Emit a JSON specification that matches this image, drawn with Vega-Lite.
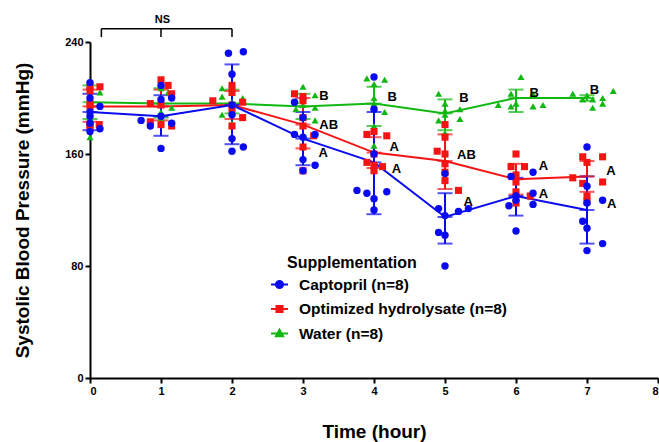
{
  "$schema": "https://vega.github.io/schema/vega-lite/v6.json",
  "width": 568,
  "height": 336,
  "autosize": "none",
  "padding": {"left": 90, "top": 42, "right": 1, "bottom": 64},
  "background": "white",
  "config": {
    "font": "Liberation Sans",
    "view": {"stroke": null},
    "axis": {
      "grid": false,
      "domainColor": "black",
      "domainWidth": 2,
      "tickColor": "black",
      "tickWidth": 2,
      "tickSize": 5,
      "labelFont": "Liberation Sans",
      "labelFontWeight": "bold",
      "labelFontSize": 11,
      "labelColor": "black",
      "titleFont": "Liberation Sans",
      "titleFontWeight": "bold",
      "titleFontSize": 19,
      "titleColor": "black"
    }
  },
  "datasets": {
    "points": [
      {"g": "Water (n=8)", "t": 0, "v": 210}, {"g": "Water (n=8)", "t": 0.14, "v": 204}, {"g": "Water (n=8)", "t": 0, "v": 199}, {"g": "Water (n=8)", "t": 0, "v": 196}, {"g": "Water (n=8)", "t": 0, "v": 193}, {"g": "Water (n=8)", "t": 0, "v": 186}, {"g": "Water (n=8)", "t": 0, "v": 180}, {"g": "Water (n=8)", "t": 0, "v": 172},
      {"g": "Water (n=8)", "t": 1, "v": 207}, {"g": "Water (n=8)", "t": 1.1, "v": 204}, {"g": "Water (n=8)", "t": 1, "v": 200}, {"g": "Water (n=8)", "t": 1, "v": 197}, {"g": "Water (n=8)", "t": 1, "v": 195}, {"g": "Water (n=8)", "t": 1.15, "v": 193}, {"g": "Water (n=8)", "t": 1, "v": 190}, {"g": "Water (n=8)", "t": 1, "v": 186},
      {"g": "Water (n=8)", "t": 1.86, "v": 207}, {"g": "Water (n=8)", "t": 2, "v": 204}, {"g": "Water (n=8)", "t": 1.86, "v": 201}, {"g": "Water (n=8)", "t": 2.15, "v": 200}, {"g": "Water (n=8)", "t": 2, "v": 197}, {"g": "Water (n=8)", "t": 2, "v": 193}, {"g": "Water (n=8)", "t": 1.86, "v": 188}, {"g": "Water (n=8)", "t": 2, "v": 182},
      {"g": "Water (n=8)", "t": 3, "v": 208}, {"g": "Water (n=8)", "t": 3.17, "v": 202}, {"g": "Water (n=8)", "t": 2.9, "v": 198}, {"g": "Water (n=8)", "t": 3, "v": 195}, {"g": "Water (n=8)", "t": 3.17, "v": 193}, {"g": "Water (n=8)", "t": 2.9, "v": 192}, {"g": "Water (n=8)", "t": 3, "v": 186}, {"g": "Water (n=8)", "t": 3.17, "v": 184},
      {"g": "Water (n=8)", "t": 3.9, "v": 214}, {"g": "Water (n=8)", "t": 4.15, "v": 213}, {"g": "Water (n=8)", "t": 4, "v": 210}, {"g": "Water (n=8)", "t": 4, "v": 200}, {"g": "Water (n=8)", "t": 4, "v": 196}, {"g": "Water (n=8)", "t": 4.15, "v": 190}, {"g": "Water (n=8)", "t": 4, "v": 180}, {"g": "Water (n=8)", "t": 4, "v": 166},
      {"g": "Water (n=8)", "t": 4.91, "v": 203}, {"g": "Water (n=8)", "t": 5, "v": 196}, {"g": "Water (n=8)", "t": 5.21, "v": 192}, {"g": "Water (n=8)", "t": 5, "v": 191}, {"g": "Water (n=8)", "t": 5, "v": 188}, {"g": "Water (n=8)", "t": 5.21, "v": 185}, {"g": "Water (n=8)", "t": 4.91, "v": 184}, {"g": "Water (n=8)", "t": 5, "v": 175},
      {"g": "Water (n=8)", "t": 6.07, "v": 215}, {"g": "Water (n=8)", "t": 5.93, "v": 203}, {"g": "Water (n=8)", "t": 6.24, "v": 203}, {"g": "Water (n=8)", "t": 6, "v": 196}, {"g": "Water (n=8)", "t": 5.93, "v": 194}, {"g": "Water (n=8)", "t": 6.24, "v": 194}, {"g": "Water (n=8)", "t": 6.38, "v": 195}, {"g": "Water (n=8)", "t": 5.75, "v": 195},
      {"g": "Water (n=8)", "t": 6.8, "v": 203}, {"g": "Water (n=8)", "t": 6.94, "v": 199}, {"g": "Water (n=8)", "t": 7.08, "v": 199}, {"g": "Water (n=8)", "t": 7.22, "v": 200}, {"g": "Water (n=8)", "t": 7.37, "v": 205}, {"g": "Water (n=8)", "t": 7.08, "v": 193}, {"g": "Water (n=8)", "t": 7.22, "v": 196}, {"g": "Water (n=8)", "t": 7, "v": 202},

      {"g": "Optimized hydrolysate (n=8)", "t": 0, "v": 208}, {"g": "Optimized hydrolysate (n=8)", "t": 0.14, "v": 208}, {"g": "Optimized hydrolysate (n=8)", "t": 0, "v": 205}, {"g": "Optimized hydrolysate (n=8)", "t": 0, "v": 196}, {"g": "Optimized hydrolysate (n=8)", "t": 0, "v": 194}, {"g": "Optimized hydrolysate (n=8)", "t": 0, "v": 181}, {"g": "Optimized hydrolysate (n=8)", "t": 0.13, "v": 181}, {"g": "Optimized hydrolysate (n=8)", "t": 0, "v": 179},
      {"g": "Optimized hydrolysate (n=8)", "t": 1, "v": 213}, {"g": "Optimized hydrolysate (n=8)", "t": 1.1, "v": 209}, {"g": "Optimized hydrolysate (n=8)", "t": 1.15, "v": 203}, {"g": "Optimized hydrolysate (n=8)", "t": 0.85, "v": 196}, {"g": "Optimized hydrolysate (n=8)", "t": 1, "v": 195}, {"g": "Optimized hydrolysate (n=8)", "t": 0.85, "v": 183}, {"g": "Optimized hydrolysate (n=8)", "t": 1, "v": 181}, {"g": "Optimized hydrolysate (n=8)", "t": 1.15, "v": 180},
      {"g": "Optimized hydrolysate (n=8)", "t": 2, "v": 209}, {"g": "Optimized hydrolysate (n=8)", "t": 2, "v": 204}, {"g": "Optimized hydrolysate (n=8)", "t": 1.73, "v": 198}, {"g": "Optimized hydrolysate (n=8)", "t": 2.15, "v": 197}, {"g": "Optimized hydrolysate (n=8)", "t": 2, "v": 195}, {"g": "Optimized hydrolysate (n=8)", "t": 2, "v": 192}, {"g": "Optimized hydrolysate (n=8)", "t": 2.15, "v": 186}, {"g": "Optimized hydrolysate (n=8)", "t": 2, "v": 180},
      {"g": "Optimized hydrolysate (n=8)", "t": 2.88, "v": 203}, {"g": "Optimized hydrolysate (n=8)", "t": 3, "v": 201}, {"g": "Optimized hydrolysate (n=8)", "t": 3, "v": 198}, {"g": "Optimized hydrolysate (n=8)", "t": 3, "v": 186}, {"g": "Optimized hydrolysate (n=8)", "t": 3, "v": 180}, {"g": "Optimized hydrolysate (n=8)", "t": 3.15, "v": 173}, {"g": "Optimized hydrolysate (n=8)", "t": 3, "v": 165}, {"g": "Optimized hydrolysate (n=8)", "t": 3, "v": 148},
      {"g": "Optimized hydrolysate (n=8)", "t": 4, "v": 176}, {"g": "Optimized hydrolysate (n=8)", "t": 3.9, "v": 174}, {"g": "Optimized hydrolysate (n=8)", "t": 4.18, "v": 173}, {"g": "Optimized hydrolysate (n=8)", "t": 4, "v": 160}, {"g": "Optimized hydrolysate (n=8)", "t": 3.9, "v": 154}, {"g": "Optimized hydrolysate (n=8)", "t": 4, "v": 152}, {"g": "Optimized hydrolysate (n=8)", "t": 4.12, "v": 151}, {"g": "Optimized hydrolysate (n=8)", "t": 4, "v": 148},
      {"g": "Optimized hydrolysate (n=8)", "t": 5, "v": 181}, {"g": "Optimized hydrolysate (n=8)", "t": 5, "v": 172}, {"g": "Optimized hydrolysate (n=8)", "t": 4.89, "v": 162}, {"g": "Optimized hydrolysate (n=8)", "t": 5, "v": 160}, {"g": "Optimized hydrolysate (n=8)", "t": 5, "v": 153}, {"g": "Optimized hydrolysate (n=8)", "t": 5, "v": 147}, {"g": "Optimized hydrolysate (n=8)", "t": 5, "v": 141}, {"g": "Optimized hydrolysate (n=8)", "t": 5.19, "v": 134},
      {"g": "Optimized hydrolysate (n=8)", "t": 6, "v": 160}, {"g": "Optimized hydrolysate (n=8)", "t": 5.93, "v": 151}, {"g": "Optimized hydrolysate (n=8)", "t": 6.12, "v": 151}, {"g": "Optimized hydrolysate (n=8)", "t": 6, "v": 145}, {"g": "Optimized hydrolysate (n=8)", "t": 6, "v": 140}, {"g": "Optimized hydrolysate (n=8)", "t": 6, "v": 133}, {"g": "Optimized hydrolysate (n=8)", "t": 6.2, "v": 130}, {"g": "Optimized hydrolysate (n=8)", "t": 6, "v": 125},
      {"g": "Optimized hydrolysate (n=8)", "t": 6.94, "v": 158}, {"g": "Optimized hydrolysate (n=8)", "t": 7.22, "v": 158}, {"g": "Optimized hydrolysate (n=8)", "t": 7, "v": 154}, {"g": "Optimized hydrolysate (n=8)", "t": 6.8, "v": 143}, {"g": "Optimized hydrolysate (n=8)", "t": 6.94, "v": 139}, {"g": "Optimized hydrolysate (n=8)", "t": 7.22, "v": 140}, {"g": "Optimized hydrolysate (n=8)", "t": 7, "v": 130}, {"g": "Optimized hydrolysate (n=8)", "t": 7, "v": 126},

      {"g": "Captopril (n=8)", "t": 0, "v": 211}, {"g": "Captopril (n=8)", "t": 0, "v": 200}, {"g": "Captopril (n=8)", "t": 0.14, "v": 194}, {"g": "Captopril (n=8)", "t": 0, "v": 187}, {"g": "Captopril (n=8)", "t": 0, "v": 182}, {"g": "Captopril (n=8)", "t": 0.14, "v": 178}, {"g": "Captopril (n=8)", "t": 0, "v": 176}, {"g": "Captopril (n=8)", "t": 0, "v": 190},
      {"g": "Captopril (n=8)", "t": 0.72, "v": 184}, {"g": "Captopril (n=8)", "t": 0.85, "v": 180}, {"g": "Captopril (n=8)", "t": 1, "v": 209}, {"g": "Captopril (n=8)", "t": 1.15, "v": 200}, {"g": "Captopril (n=8)", "t": 1, "v": 199}, {"g": "Captopril (n=8)", "t": 1, "v": 187}, {"g": "Captopril (n=8)", "t": 1.15, "v": 182}, {"g": "Captopril (n=8)", "t": 1, "v": 164},
      {"g": "Captopril (n=8)", "t": 1.95, "v": 232}, {"g": "Captopril (n=8)", "t": 2.16, "v": 233}, {"g": "Captopril (n=8)", "t": 2, "v": 217}, {"g": "Captopril (n=8)", "t": 2, "v": 195}, {"g": "Captopril (n=8)", "t": 2, "v": 188}, {"g": "Captopril (n=8)", "t": 2, "v": 171}, {"g": "Captopril (n=8)", "t": 2.16, "v": 165}, {"g": "Captopril (n=8)", "t": 2, "v": 162},
      {"g": "Captopril (n=8)", "t": 2.88, "v": 197}, {"g": "Captopril (n=8)", "t": 2.88, "v": 174}, {"g": "Captopril (n=8)", "t": 3, "v": 172}, {"g": "Captopril (n=8)", "t": 3.17, "v": 174}, {"g": "Captopril (n=8)", "t": 3, "v": 186}, {"g": "Captopril (n=8)", "t": 3, "v": 156}, {"g": "Captopril (n=8)", "t": 3.17, "v": 152}, {"g": "Captopril (n=8)", "t": 3, "v": 148},
      {"g": "Captopril (n=8)", "t": 4, "v": 215}, {"g": "Captopril (n=8)", "t": 4, "v": 192}, {"g": "Captopril (n=8)", "t": 4, "v": 160}, {"g": "Captopril (n=8)", "t": 3.76, "v": 134}, {"g": "Captopril (n=8)", "t": 3.9, "v": 132}, {"g": "Captopril (n=8)", "t": 4.18, "v": 133}, {"g": "Captopril (n=8)", "t": 4, "v": 128}, {"g": "Captopril (n=8)", "t": 4, "v": 120},
      {"g": "Captopril (n=8)", "t": 5, "v": 146}, {"g": "Captopril (n=8)", "t": 4.91, "v": 121}, {"g": "Captopril (n=8)", "t": 5, "v": 116}, {"g": "Captopril (n=8)", "t": 5.19, "v": 119}, {"g": "Captopril (n=8)", "t": 5.33, "v": 121}, {"g": "Captopril (n=8)", "t": 4.91, "v": 104}, {"g": "Captopril (n=8)", "t": 5, "v": 102}, {"g": "Captopril (n=8)", "t": 5, "v": 80},
      {"g": "Captopril (n=8)", "t": 6.24, "v": 147}, {"g": "Captopril (n=8)", "t": 5.93, "v": 144}, {"g": "Captopril (n=8)", "t": 6.24, "v": 132}, {"g": "Captopril (n=8)", "t": 6, "v": 130}, {"g": "Captopril (n=8)", "t": 6, "v": 127}, {"g": "Captopril (n=8)", "t": 6.24, "v": 124}, {"g": "Captopril (n=8)", "t": 5.9, "v": 123}, {"g": "Captopril (n=8)", "t": 6, "v": 105},
      {"g": "Captopril (n=8)", "t": 7, "v": 165}, {"g": "Captopril (n=8)", "t": 7, "v": 137}, {"g": "Captopril (n=8)", "t": 7.22, "v": 127}, {"g": "Captopril (n=8)", "t": 7, "v": 125}, {"g": "Captopril (n=8)", "t": 6.94, "v": 112}, {"g": "Captopril (n=8)", "t": 7, "v": 107}, {"g": "Captopril (n=8)", "t": 7.22, "v": 96}, {"g": "Captopril (n=8)", "t": 7, "v": 91}
    ],
    "summary": [
      {"g": "Water (n=8)", "t": 0, "mean": 197, "lo": 185, "hi": 209},
      {"g": "Water (n=8)", "t": 1, "mean": 196, "lo": 186, "hi": 207},
      {"g": "Water (n=8)", "t": 2, "mean": 196, "lo": 189, "hi": 206},
      {"g": "Water (n=8)", "t": 3, "mean": 194, "lo": 185, "hi": 203},
      {"g": "Water (n=8)", "t": 4, "mean": 196, "lo": 180, "hi": 208},
      {"g": "Water (n=8)", "t": 5, "mean": 189, "lo": 177, "hi": 199},
      {"g": "Water (n=8)", "t": 6, "mean": 200, "lo": 190, "hi": 206},
      {"g": "Water (n=8)", "t": 7, "mean": 200, "lo": 198, "hi": 202},
      {"g": "Optimized hydrolysate (n=8)", "t": 0, "mean": 194, "lo": 183, "hi": 206},
      {"g": "Optimized hydrolysate (n=8)", "t": 1, "mean": 194, "lo": 184, "hi": 206},
      {"g": "Optimized hydrolysate (n=8)", "t": 2, "mean": 195, "lo": 185, "hi": 205},
      {"g": "Optimized hydrolysate (n=8)", "t": 3, "mean": 181, "lo": 164, "hi": 200},
      {"g": "Optimized hydrolysate (n=8)", "t": 4, "mean": 161, "lo": 150, "hi": 172},
      {"g": "Optimized hydrolysate (n=8)", "t": 5, "mean": 155, "lo": 135, "hi": 174},
      {"g": "Optimized hydrolysate (n=8)", "t": 6, "mean": 142, "lo": 131, "hi": 153},
      {"g": "Optimized hydrolysate (n=8)", "t": 7, "mean": 144, "lo": 133, "hi": 155},
      {"g": "Captopril (n=8)", "t": 0, "mean": 190, "lo": 177, "hi": 203},
      {"g": "Captopril (n=8)", "t": 1, "mean": 187, "lo": 173, "hi": 202},
      {"g": "Captopril (n=8)", "t": 2, "mean": 195, "lo": 167, "hi": 224},
      {"g": "Captopril (n=8)", "t": 3, "mean": 171, "lo": 152, "hi": 190},
      {"g": "Captopril (n=8)", "t": 4, "mean": 154, "lo": 117, "hi": 190},
      {"g": "Captopril (n=8)", "t": 5, "mean": 115, "lo": 96, "hi": 132},
      {"g": "Captopril (n=8)", "t": 6, "mean": 130, "lo": 116, "hi": 143},
      {"g": "Captopril (n=8)", "t": 7, "mean": 120, "lo": 96, "hi": 144}
    ],
    "letters": [
      {"t": 3.23, "v": 201.5, "label": "B"}, {"t": 3.23, "v": 181, "label": "AB"}, {"t": 3.22, "v": 160.6, "label": "A"},
      {"t": 4.19, "v": 201, "label": "B"}, {"t": 4.22, "v": 165, "label": "A"}, {"t": 4.25, "v": 149, "label": "A"},
      {"t": 5.2, "v": 200, "label": "B"}, {"t": 5.17, "v": 159, "label": "AB"}, {"t": 5.26, "v": 125.7, "label": "A"},
      {"t": 6.19, "v": 203.6, "label": "B"}, {"t": 6.32, "v": 151.7, "label": "A"}, {"t": 6.32, "v": 131.4, "label": "A"},
      {"t": 7.04, "v": 206, "label": "B"}, {"t": 7.27, "v": 148, "label": "A"}, {"t": 7.28, "v": 124.6, "label": "A"}
    ],
    "bracket": [
      {"x1": 0.16, "x2": 2, "y1": 249.5, "y2": 249.5},
      {"x1": 0.16, "x2": 0.16, "y1": 249.5, "y2": 243.5},
      {"x1": 1, "x2": 1, "y1": 249.5, "y2": 243.5},
      {"x1": 2, "x2": 2, "y1": 249.5, "y2": 243.5}
    ],
    "ns": [{"t": 1.02, "v": 256, "label": "NS"}]
  },
  "layer": [
    {
      "data": {"name": "bracket"},
      "mark": {"type": "rule", "color": "black", "strokeWidth": 1.5},
      "encoding": {
        "x": {"field": "x1", "type": "quantitative", "scale": {"domain": [0, 8], "nice": false, "zero": false},
          "axis": {"values": [0, 1, 2, 3, 4, 5, 6, 7, 8], "title": "Time (hour)", "labelPadding": 2, "titlePadding": 26, "format": "d"}},
        "x2": {"field": "x2"},
        "y": {"field": "y1", "type": "quantitative", "scale": {"domain": [0, 240], "nice": false},
          "axis": {"values": [0, 80, 160, 240], "title": "Systolic Blood Pressure (mmHg)", "labelPadding": 2, "titlePadding": 32}},
        "y2": {"field": "y2"}
      }
    },
    {
      "data": {"name": "ns"},
      "mark": {"type": "text", "font": "Liberation Sans", "fontWeight": "bold", "fontSize": 11, "color": "black", "baseline": "middle"},
      "encoding": {
        "x": {"field": "t", "type": "quantitative"},
        "y": {"field": "v", "type": "quantitative"},
        "text": {"field": "label"}
      }
    },
    {
      "data": {"name": "summary"},
      "mark": {"type": "line", "strokeWidth": 2},
      "encoding": {
        "x": {"field": "t", "type": "quantitative"},
        "y": {"field": "mean", "type": "quantitative"},
        "color": {"field": "g", "type": "nominal", "title": "Supplementation",
          "scale": {"domain": ["Captopril (n=8)", "Optimized hydrolysate (n=8)", "Water (n=8)"], "range": ["#0a0af0", "#f41414", "#12b812"]},
          "legend": {
            "orient": "none", "legendX": 180, "legendY": 213,
            "titleFont": "Liberation Sans", "titleFontSize": 16, "titleFontWeight": "bold", "titleColor": "black", "titlePadding": 4,
            "labelFont": "Liberation Sans", "labelFontSize": 15.5, "labelFontWeight": "bold", "labelColor": "black", "labelLimit": 400,
            "labelOffset": 10, "symbolSize": 289, "rowPadding": 6.5, "symbolStrokeWidth": 2,
            "encode": {
              "title": {"update": {"dx": {"value": 17}}},
              "symbols": {"update": {
                "shape": {"signal": "datum.value === 'Captopril (n=8)' ? 'M-1,0H1M-0.42,0A0.42,0.42,0,1,1,0.42,0A0.42,0.42,0,1,1,-0.42,0Z' : datum.value === 'Water (n=8)' ? 'M-1,0H1M0,-0.45L0.42,0.32H-0.42Z' : 'M-1,0H1M-0.36,-0.36H0.36V0.36H-0.36Z'"},
                "stroke": {"signal": "scale('color', datum.value)"},
                "fill": {"signal": "scale('color', datum.value)"},
                "fillOpacity": {"value": 1},
                "opacity": {"value": 1},
                "strokeWidth": {"value": 2}
              }}
            }
          }},
        "detail": {"field": "g"}
      }
    },
    {
      "data": {"name": "summary"},
      "mark": {"type": "rule", "strokeWidth": 2},
      "encoding": {
        "x": {"field": "t", "type": "quantitative"},
        "y": {"field": "lo", "type": "quantitative"},
        "y2": {"field": "hi"},
        "color": {"field": "g", "type": "nominal"}
      }
    },
    {
      "data": {"name": "summary"},
      "mark": {"type": "tick", "orient": "horizontal", "size": 15, "thickness": 2},
      "encoding": {
        "x": {"field": "t", "type": "quantitative"},
        "y": {"field": "lo", "type": "quantitative"},
        "color": {"field": "g", "type": "nominal"}
      }
    },
    {
      "data": {"name": "summary"},
      "mark": {"type": "tick", "orient": "horizontal", "size": 15, "thickness": 2},
      "encoding": {
        "x": {"field": "t", "type": "quantitative"},
        "y": {"field": "hi", "type": "quantitative"},
        "color": {"field": "g", "type": "nominal"}
      }
    },
    {
      "data": {"name": "summary"},
      "mark": {"type": "tick", "orient": "horizontal", "size": 15, "thickness": 2},
      "encoding": {
        "x": {"field": "t", "type": "quantitative"},
        "y": {"field": "mean", "type": "quantitative"},
        "color": {"field": "g", "type": "nominal"}
      }
    },
    {
      "data": {"name": "points"},
      "transform": [{"filter": "datum.g === 'Water (n=8)'"}],
      "mark": {"type": "point", "filled": true, "opacity": 1, "size": 50, "shape": "triangle-up"},
      "encoding": {
        "x": {"field": "t", "type": "quantitative"},
        "y": {"field": "v", "type": "quantitative"},
        "color": {"field": "g", "type": "nominal"}
      }
    },
    {
      "data": {"name": "points"},
      "transform": [{"filter": "datum.g === 'Optimized hydrolysate (n=8)'"}],
      "mark": {"type": "point", "filled": true, "opacity": 1, "size": 50, "shape": "square"},
      "encoding": {
        "x": {"field": "t", "type": "quantitative"},
        "y": {"field": "v", "type": "quantitative"},
        "color": {"field": "g", "type": "nominal"}
      }
    },
    {
      "data": {"name": "points"},
      "transform": [{"filter": "datum.g === 'Captopril (n=8)'"}],
      "mark": {"type": "point", "filled": true, "opacity": 1, "size": 55, "shape": "circle"},
      "encoding": {
        "x": {"field": "t", "type": "quantitative"},
        "y": {"field": "v", "type": "quantitative"},
        "color": {"field": "g", "type": "nominal"}
      }
    },
    {
      "data": {"name": "letters"},
      "mark": {"type": "text", "font": "Liberation Sans", "fontWeight": "bold", "fontSize": 13, "color": "black", "align": "left", "baseline": "middle"},
      "encoding": {
        "x": {"field": "t", "type": "quantitative"},
        "y": {"field": "v", "type": "quantitative"},
        "text": {"field": "label"}
      }
    }
  ]
}
